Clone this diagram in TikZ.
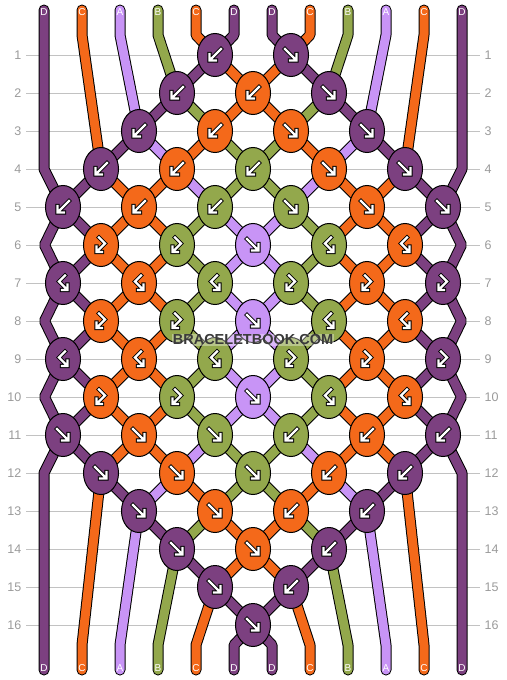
\documentclass[tikz,border=0pt]{standalone}
\usepackage{fontspec}
\setmainfont{Liberation Sans}
\usetikzlibrary{shapes.geometric}
\definecolor{cD}{HTML}{7C4080}
\definecolor{cC}{HTML}{F4691A}
\definecolor{cA}{HTML}{C894F6}
\definecolor{cB}{HTML}{93A84C}
\definecolor{gridc}{HTML}{C2C2C2}
\definecolor{numc}{HTML}{9A9A9A}
\definecolor{wmc}{HTML}{3A3A3A}
\newcommand\drawstring[2]{\draw[strout] #2; \draw[strin,draw=#1] #2;}
\begin{document}
\begin{tikzpicture}[x=1pt,y=-1pt,
 gridline/.style={draw=gridc,line width=1pt},
 rownum/.style={text=numc,font=\fontsize{12.5}{13}\selectfont,inner sep=0pt},
 strout/.style={draw=black,line width=11pt,line cap=round,line join=bevel},
 strin/.style={line width=9pt,line cap=round,line join=bevel},
 knotst/.style={ellipse,draw=black,line width=1pt,minimum width=35pt,minimum height=43pt,inner sep=0pt},
 arrO/.style={draw=black,line width=4.2pt,line cap=rect,line join=miter},
 arrI/.style={draw=white,line width=2.2pt,line cap=rect,line join=miter},
 lbl/.style={text=white,font=\fontsize{10}{10}\selectfont,inner sep=0pt},
 wm/.style={font=\bfseries\fontsize{14.5}{15}\selectfont,inner sep=1pt,fill=white,fill opacity=0.35,text opacity=1},
 arrSE/.pic={\draw[arrO] (-6,-6)--(4.5,4.5) (5.5,-1)--(5.5,5.5)--(-1,5.5);
             \draw[arrI] (-6,-6)--(4.5,4.5) (5.5,-1)--(5.5,5.5)--(-1,5.5);},
 arrSW/.pic={\draw[arrO] (6,-6)--(-4.5,4.5) (-5.5,-1)--(-5.5,5.5)--(1,5.5);
             \draw[arrI] (6,-6)--(-4.5,4.5) (-5.5,-1)--(-5.5,5.5)--(1,5.5);},
 hookL/.pic={\draw[arrO] (-2,-7.5)--(4,-1.5)--(-3.5,6) (-4.5,1.5)--(-4.5,7)--(1,7);
             \draw[arrI] (-2,-7.5)--(4,-1.5)--(-3.5,6) (-4.5,1.5)--(-4.5,7)--(1,7);},
 hookR/.pic={\draw[arrO] (2,-7.5)--(-4,-1.5)--(3.5,6) (4.5,1.5)--(4.5,7)--(-1,7);
             \draw[arrI] (2,-7.5)--(-4,-1.5)--(3.5,6) (4.5,1.5)--(4.5,7)--(-1,7);}]
\useasboundingbox (0,0) rectangle (506,680);
% grid lines and row numbers
\foreach \r in {1,...,16}{
  \draw[gridline] (26,{17+38*\r}) -- (480,{17+38*\r});
  \node[rownum,anchor=east] (ln\r) at (21.5,{17+38*\r}) {\r};
  \node[rownum,anchor=west] (rn\r) at (484.5,{17+38*\r}) {\r};
}
% coordinates
\foreach \r in {1,...,16}{\foreach \i in {0,...,10}{\coordinate (c\r-\i) at ({63+38*\i},{17+38*\r});}}
\foreach \p in {0,...,11}{
  \coordinate (t\p) at ({44+38*\p},10);
  \coordinate (tb\p) at ({44+38*\p},35);
  \coordinate (bb\p) at ({44+38*\p},645);
  \coordinate (b\p) at ({44+38*\p},670);
}
\coordinate (e0-4) at (44,169);
\coordinate (e0-6) at (44.5,245);
\coordinate (e0-8) at (44.5,321);
\coordinate (e0-10) at (44.5,397);
\coordinate (e0-12) at (44,473);
\coordinate (e11-4) at (462,169);
\coordinate (e11-6) at (461.5,245);
\coordinate (e11-8) at (461.5,321);
\coordinate (e11-10) at (461.5,397);
\coordinate (e11-12) at (462,473);
% strings
\drawstring{cD}{(t0)--(e0-4)--(c5-0)--(c6-1)--(c7-0)--(c8-1)--(c9-0)--(c10-1)--(c11-0)--(e0-12)--(b0)}
\drawstring{cC}{(t1)--(tb1)--(c4-1)--(c5-2)--(c6-3)--(c7-2)--(c8-3)--(c9-2)--(c10-3)--(c11-2)--(c12-1)--(bb1)--(b1)}
\drawstring{cA}{(t2)--(tb2)--(c3-2)--(c4-3)--(c5-4)--(c6-5)--(c7-6)--(c8-5)--(c9-4)--(c10-5)--(c11-6)--(c12-7)--(c13-8)--(bb9)--(b9)}
\drawstring{cB}{(t3)--(tb3)--(c2-3)--(c3-4)--(c4-5)--(c5-6)--(c6-7)--(c7-6)--(c8-7)--(c9-6)--(c10-7)--(c11-6)--(c12-5)--(c13-4)--(c14-3)--(bb3)--(b3)}
\drawstring{cC}{(t4)--(tb4)--(c1-4)--(c2-5)--(c3-6)--(c4-7)--(c5-8)--(c6-9)--(c7-8)--(c8-9)--(c9-8)--(c10-9)--(c11-8)--(c12-7)--(c13-6)--(c14-5)--(c15-4)--(bb4)--(b4)}
\drawstring{cD}{(t5)--(tb5)--(c1-4)--(c2-3)--(c3-2)--(c4-1)--(c5-0)--(e0-6)--(c7-0)--(e0-8)--(c9-0)--(e0-10)--(c11-0)--(c12-1)--(c13-2)--(c14-3)--(c15-4)--(c16-5)--(bb6)--(b6)}
\drawstring{cD}{(t11)--(e11-4)--(c5-10)--(c6-9)--(c7-10)--(c8-9)--(c9-10)--(c10-9)--(c11-10)--(e11-12)--(b11)}
\drawstring{cC}{(t10)--(tb10)--(c4-9)--(c5-8)--(c6-7)--(c7-8)--(c8-7)--(c9-8)--(c10-7)--(c11-8)--(c12-9)--(bb10)--(b10)}
\drawstring{cA}{(t9)--(tb9)--(c3-8)--(c4-7)--(c5-6)--(c6-5)--(c7-4)--(c8-5)--(c9-6)--(c10-5)--(c11-4)--(c12-3)--(c13-2)--(bb2)--(b2)}
\drawstring{cB}{(t8)--(tb8)--(c2-7)--(c3-6)--(c4-5)--(c5-4)--(c6-3)--(c7-4)--(c8-3)--(c9-4)--(c10-3)--(c11-4)--(c12-5)--(c13-6)--(c14-7)--(bb8)--(b8)}
\drawstring{cC}{(t7)--(tb7)--(c1-6)--(c2-5)--(c3-4)--(c4-3)--(c5-2)--(c6-1)--(c7-2)--(c8-1)--(c9-2)--(c10-1)--(c11-2)--(c12-3)--(c13-4)--(c14-5)--(c15-6)--(bb7)--(b7)}
\drawstring{cD}{(t6)--(tb6)--(c1-6)--(c2-7)--(c3-8)--(c4-9)--(c5-10)--(e11-6)--(c7-10)--(e11-8)--(c9-10)--(e11-10)--(c11-10)--(c12-9)--(c13-8)--(c14-7)--(c15-6)--(c16-5)--(bb5)--(b5)}
% knots
\foreach \r/\i/\c/\a in {
 1/4/cD/1, 1/6/cD/2,
 2/3/cD/1, 2/5/cC/1, 2/7/cD/2,
 3/2/cD/1, 3/4/cC/1, 3/6/cC/2, 3/8/cD/2,
 4/1/cD/1, 4/3/cC/1, 4/5/cB/1, 4/7/cC/2, 4/9/cD/2,
 5/0/cD/1, 5/2/cC/1, 5/4/cB/1, 5/6/cB/2, 5/8/cC/2, 5/10/cD/2,
 6/1/cC/3, 6/3/cB/3, 6/5/cA/2, 6/7/cB/4, 6/9/cC/4,
 7/0/cD/4, 7/2/cC/4, 7/4/cB/4, 7/6/cB/3, 7/8/cC/3, 7/10/cD/3,
 8/1/cC/3, 8/3/cB/3, 8/5/cA/2, 8/7/cB/4, 8/9/cC/4,
 9/0/cD/4, 9/2/cC/4, 9/4/cB/4, 9/6/cB/3, 9/8/cC/3, 9/10/cD/3,
 10/1/cC/3, 10/3/cB/3, 10/5/cA/2, 10/7/cB/4, 10/9/cC/4,
 11/0/cD/2, 11/2/cC/2, 11/4/cB/2, 11/6/cB/1, 11/8/cC/1, 11/10/cD/1,
 12/1/cD/2, 12/3/cC/2, 12/5/cB/2, 12/7/cC/1, 12/9/cD/1,
 13/2/cD/2, 13/4/cC/2, 13/6/cC/1, 13/8/cD/1,
 14/3/cD/2, 14/5/cC/2, 14/7/cD/1,
 15/4/cD/2, 15/6/cD/1,
 16/5/cD/2}{
 \node[knotst,fill=\c] (k\r-\i) at (c\r-\i) {};
 \ifcase\a\or \pic at (c\r-\i) {arrSW};\or \pic at (c\r-\i) {arrSE};\or \pic at (c\r-\i) {hookL};\or \pic at (c\r-\i) {hookR};\fi
}
% string labels
\foreach \p/\L in {0/D,1/C,2/A,3/B,4/C,5/D,6/D,7/C,8/B,9/A,10/C,11/D}{
  \node[lbl] (tl\p) at ({44+38*\p},12) {\L};
  \node[lbl] (bl\p) at ({44+38*\p},668) {\L};
}
% watermark
\node[wm,text=wmc] (wm) at (253,340) {BRACELETBOOK.COM};
\end{tikzpicture}
\end{document}
